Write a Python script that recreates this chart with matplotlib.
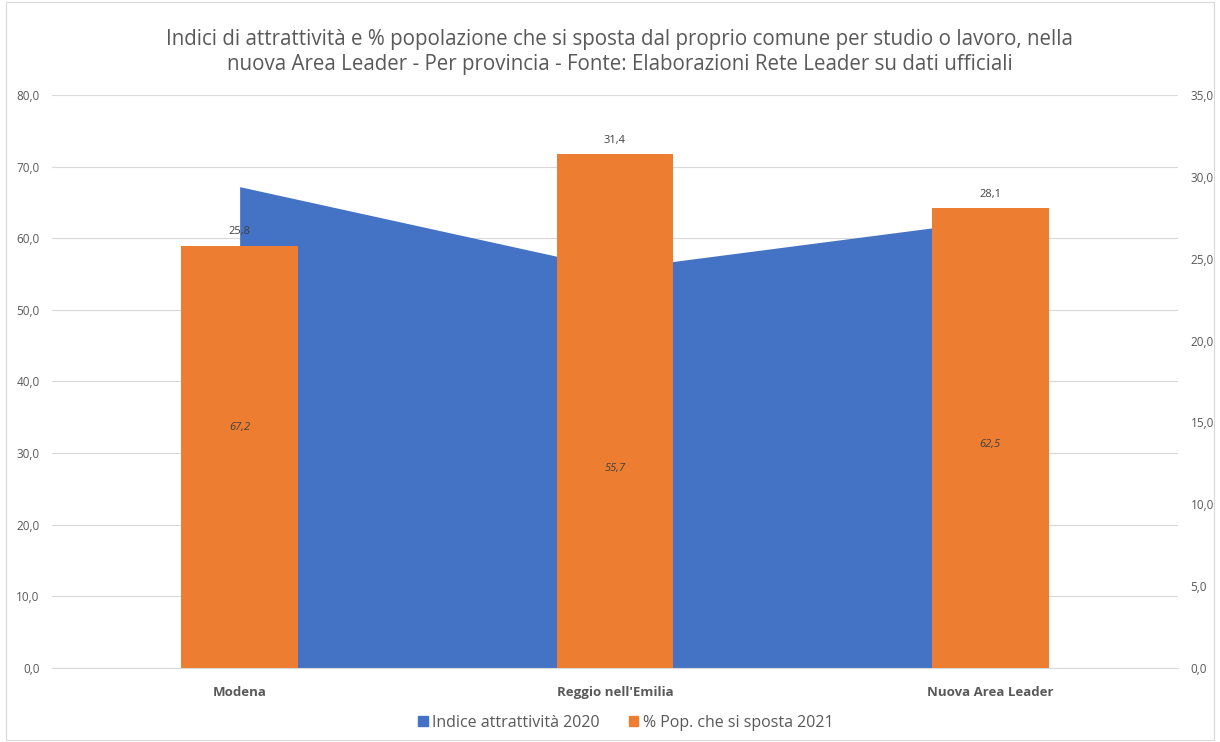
import numpy as np
import matplotlib.pyplot as plt
from matplotlib.patches import Patch, Rectangle

categories = ["Modena", "Reggio nell'Emilia", "Nuova Area Leader"]
indice_2020 = [67.2, 55.7, 62.5]
pop_sposta_2021 = [25.8, 31.4, 28.1]
left_ticks = np.arange(0, 81, 10)
right_ticks = np.arange(0, 36, 5)

BLUE = "#4472C4"
ORANGE = "#ED7D31"
GREY = "#595959"


def fmt(v):
    return f"{v:.1f}".replace(".", ",")


plt.rcParams['font.family'] = ['Open Sans', 'DejaVu Sans']

fig = plt.figure(figsize=(12.2, 7.42), dpi=100)
fig.patches.append(Rectangle((0.005, 0.003), 0.99, 0.994, transform=fig.transFigure,
                             fill=False, edgecolor="#d9d9d9", linewidth=0.8))
ax = fig.add_axes([0.0426, 0.0997, 0.923, 0.7723])
ax2 = ax.twinx()

x = np.arange(len(categories))

# area series (left axis)
ax.fill_between(x, indice_2020, 0, color=BLUE, linewidth=0, zorder=2)
ax.set_ylim(0, 80)
ax.set_xlim(-0.5, 2.5)
ax.set_yticks(left_ticks)
ax.set_yticklabels([fmt(t) for t in left_ticks])
ax.yaxis.grid(True, color="#d9d9d9", linewidth=0.8)
ax.set_axisbelow(True)

# bar series (right axis), drawn over the area
ax2.bar(x, pop_sposta_2021, width=0.31, color=ORANGE, zorder=3)
for xi, v in zip(x, pop_sposta_2021):
    ax2.text(xi, v + 0.5, fmt(v), ha="center", va="bottom", fontsize=8, color="#404040")
ax2.set_ylim(0, 35)
ax2.set_yticks(right_ticks)
ax2.set_yticklabels([fmt(t) for t in right_ticks])

ax.set_zorder(ax2.get_zorder() - 1)
ax.patch.set_visible(True)
ax2.patch.set_visible(False)

# area labels, placed on ax2 so they sit above the bars
for xi, v in zip(x, indice_2020):
    ax2.text(xi, v / 2 * 35 / 80, fmt(v), ha="center", va="center", fontsize=8,
             style="italic", color="#404040", zorder=6)

ax.set_xticks(x)
ax.set_xticklabels(categories, fontweight="bold", color=GREY)

for a in (ax, ax2):
    for s in a.spines.values():
        s.set_visible(False)
    a.tick_params(length=0, labelsize=8.5, labelcolor=GREY)
ax.spines["bottom"].set_visible(True)
ax.spines["bottom"].set_color("#d9d9d9")
ax.tick_params(axis="x", pad=13, labelsize=9.5)
ax.tick_params(axis="y", pad=9)
ax2.tick_params(axis="y", pad=9)

fig.text(0.508, 0.930, "Indici di attrattività e % popolazione che si sposta dal proprio comune per studio o lavoro, nella\n"
         "nuova Area Leader - Per provincia - Fonte: Elaborazioni Rete Leader su dati ufficiali",
         ha="center", va="center", fontsize=14.8, color=GREY, linespacing=1.3)

handles = [Patch(color=BLUE, label="Indice attrattività 2020"),
           Patch(color=ORANGE, label="% Pop. che si sposta 2021")]
fig.legend(handles=handles, loc="center", bbox_to_anchor=(0.513, 0.026), ncol=2, frameon=False,
           fontsize=11.5, handlelength=0.6, handleheight=0.6, handletextpad=0.3, columnspacing=1.8,
           labelcolor=GREY)

fig.savefig("out.png", dpi=100)
